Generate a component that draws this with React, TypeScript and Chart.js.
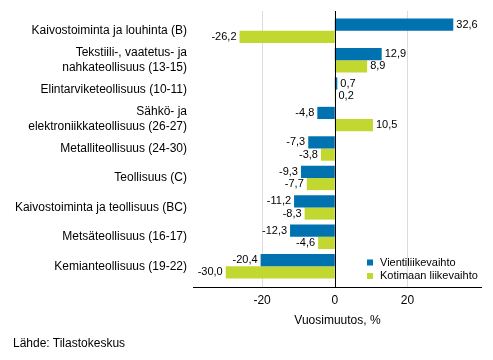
import React, { useEffect, useRef } from "react";
import { Chart, registerables } from "chart.js";

Chart.register(...registerables);

const categories: (string | string[])[] = [
  "Kaivostoiminta ja louhinta (B)",
  ["Tekstiili-, vaatetus- ja", "nahkateollisuus (13-15)"],
  "Elintarviketeollisuus (10-11)",
  ["Sähkö- ja", "elektroniikkateollisuus (26-27)"],
  "Metalliteollisuus (24-30)",
  "Teollisuus (C)",
  "Kaivostoiminta ja teollisuus (BC)",
  "Metsäteollisuus (16-17)",
  "Kemianteollisuus (19-22)",
];

const seriesNames = ["Vientiliikevaihto", "Kotimaan liikevaihto"];
const vientiValues = [32.6, 12.9, 0.7, -4.8, -7.3, -9.3, -11.2, -12.3, -20.4];
const kotimaanValues = [-26.2, 8.9, 0.2, 10.5, -3.8, -7.7, -8.3, -4.6, -30.0];
const xTickValues = [-20, 0, 20];
const xMin = -39;
const xMax = 40.5;
const axisTitle = "Vuosimuutos, %";
const sourceText = "Lähde: Tilastokeskus";

const BLUE = "#0072b0";
const GREEN = "#c2d830";
const FONT = "'Liberation Sans', Arial, sans-serif";

const fmt = (v: number) => v.toFixed(1).replace(".", ",");

const gridPlugin = {
  id: "extGrid",
  beforeDatasetsDraw(chart: any) {
    const { ctx, chartArea, scales } = chart;
    const x = scales.x;
    ctx.save();
    ctx.lineWidth = 1;
    xTickValues.forEach((v) => {
      if (v === 0) return;
      const px = Math.round(x.getPixelForValue(v)) + 0.5;
      ctx.strokeStyle = "#dcdcdc";
      ctx.beginPath();
      ctx.moveTo(px, chartArea.top - 5);
      ctx.lineTo(px, chartArea.bottom + 6);
      ctx.stroke();
    });
    ctx.restore();
  },
  afterDatasetsDraw(chart: any) {
    const { ctx, chartArea, scales } = chart;
    const x = scales.x;
    ctx.save();
    ctx.strokeStyle = "#000";
    ctx.lineWidth = 1;
    const z = Math.round(x.getPixelForValue(0)) + 0.5;
    ctx.beginPath();
    ctx.moveTo(z, chartArea.top - 5);
    ctx.lineTo(z, chartArea.bottom + 6);
    ctx.stroke();
    const by = Math.round(chartArea.bottom + 6) + 0.5;
    ctx.beginPath();
    ctx.moveTo(chartArea.left, by);
    ctx.lineTo(chartArea.right, by);
    ctx.stroke();

    // data labels
    ctx.font = `11px ${FONT}`;
    ctx.fillStyle = "#000";
    ctx.textBaseline = "middle";
    chart.data.datasets.forEach((ds: any, di: number) => {
      const meta = chart.getDatasetMeta(di);
      meta.data.forEach((bar: any, i: number) => {
        const v = ds.data[i];
        const txt = fmt(v);
        if (v >= 0) {
          ctx.textAlign = "left";
          ctx.fillText(txt, bar.x + 3, bar.y);
        } else {
          ctx.textAlign = "right";
          ctx.fillText(txt, bar.x - 3, bar.y);
        }
      });
    });

    // legend
    const lx = chartArea.right - 102;
    const rows = [chartArea.bottom - 18.5, chartArea.bottom - 5];
    const cols = [BLUE, GREEN];
    ctx.textAlign = "left";
    seriesNames.forEach((name, i) => {
      ctx.fillStyle = cols[i];
      ctx.fillRect(lx - 13, rows[i] - 3, 6, 6);
      ctx.fillStyle = "#000";
      ctx.fillText(name, lx, rows[i]);
    });
    ctx.restore();
  },
};

export default function App() {
  const ref = useRef<HTMLCanvasElement | null>(null);
  useEffect(() => {
    if (!ref.current) return;
    const chart = new Chart(ref.current, {
      type: "bar",
      data: {
        labels: categories as any,
        datasets: [
          { label: seriesNames[0], data: vientiValues, backgroundColor: BLUE, borderWidth: 0 },
          { label: seriesNames[1], data: kotimaanValues, backgroundColor: GREEN, borderWidth: 0 },
        ],
      },
      options: {
        indexAxis: "y",
        animation: false,
        responsive: true,
        maintainAspectRatio: false,
        layout: { padding: { top: 16, right: 11, left: 0, bottom: 31.8 } },
        datasets: { bar: { categoryPercentage: 0.83, barPercentage: 1.0 } },
        plugins: {
          legend: { display: false },
          tooltip: { enabled: false },
        },
        scales: {
          x: {
            type: "linear",
            min: xMin,
            max: xMax,
            afterBuildTicks: (scale: any) => {
              scale.ticks = xTickValues.map((v) => ({ value: v }));
            },
            afterFit: (scale: any) => {
              scale.height = 47.2;
            },
            grid: { display: false, drawTicks: false },
            border: { display: false },
            ticks: {
              padding: 12,
              maxRotation: 0,
              color: "#000",
              font: { family: FONT, size: 12 },
              callback: (v: any) => String(v),
            },
            title: {
              display: true,
              text: axisTitle,
              color: "#000",
              font: { family: FONT, size: 12 },
              padding: { top: 6.4, bottom: 0 },
            },
          },
          y: {
            grid: { display: false, drawTicks: false },
            border: { display: false },
            afterFit: (scale: any) => {
              scale.width = 193;
            },
            ticks: {
              padding: 6,
              color: "#000",
              font: { family: FONT, size: 12, lineHeight: 1.25 },
              autoSkip: false,
            },
          },
        },
      },
      plugins: [gridPlugin],
    } as any);
    return () => chart.destroy();
  }, []);

  return (
    <div style={{ position: "fixed", left: 0, top: 0, width: 493, height: 360, background: "#fff" }}>
      <canvas ref={ref} />
      <div
        style={{
          position: "absolute",
          left: 13,
          top: 335,
          fontFamily: FONT,
          fontSize: 12,
          color: "#000",
          lineHeight: "16px",
        }}
      >
        {sourceText}
      </div>
    </div>
  );
}
